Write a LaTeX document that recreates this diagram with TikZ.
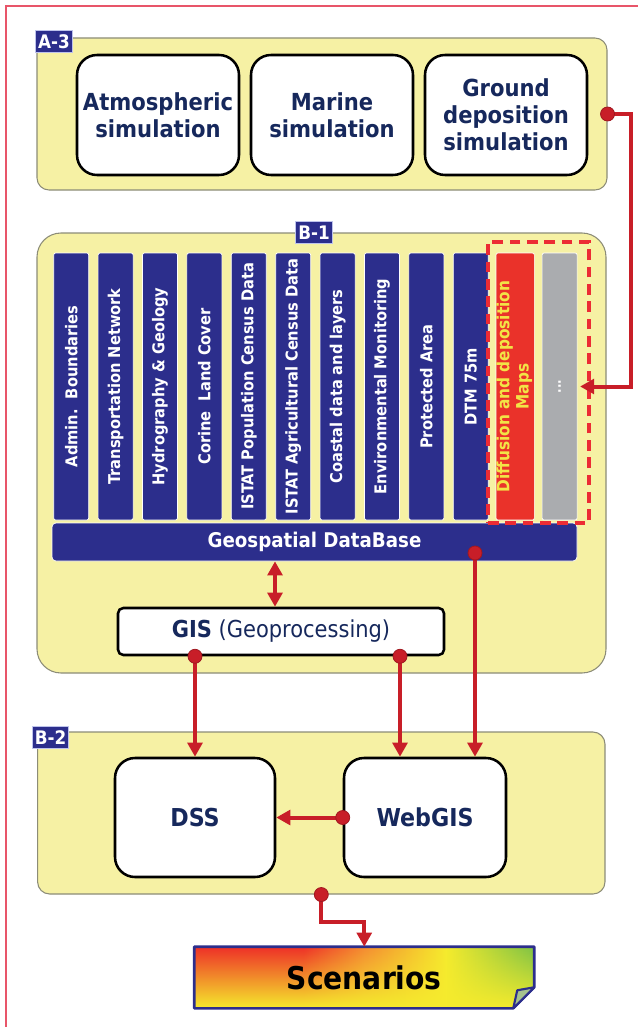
\documentclass[tikz,border=0pt]{standalone}
\usepackage{fontspec}
\usepackage{graphicx}
\setmainfont{DejaVu Sans Condensed}
\usetikzlibrary{arrows.meta,fadings}
\definecolor{navy}{RGB}{44,46,140}
\definecolor{tnavy}{RGB}{22,40,92}
\definecolor{pyellow}{RGB}{246,241,164}
\definecolor{pborder}{RGB}{140,140,120}
\definecolor{tagborder}{RGB}{190,195,235}
\definecolor{cred}{RGB}{200,30,40}
\definecolor{dred}{RGB}{236,44,52}
\definecolor{colred}{RGB}{234,50,42}
\definecolor{dyellow}{RGB}{242,228,70}
\definecolor{gcol}{RGB}{170,172,175}
\definecolor{framec}{RGB}{232,85,105}
\definecolor{sred}{RGB}{238,48,40}
\definecolor{sorange}{RGB}{244,140,50}
\definecolor{syellow}{RGB}{245,235,45}
\definecolor{sgreen}{RGB}{125,194,70}
\pgfdeclarehorizontalshading{scenh}{100bp}{color(0bp)=(sred); color(25bp)=(sred); color(41bp)=(sred); color(50bp)=(sorange); color(62bp)=(syellow); color(75bp)=(sgreen); color(100bp)=(sgreen)}
\tikzfading[name=scfade, top color=transparent!100, middle color=transparent!85, bottom color=transparent!0]
\begin{document}
\begin{tikzpicture}[x=0.75pt,y=-0.75pt,
  panel/.style={draw=pborder, line width=0.8pt, fill=pyellow, inner sep=0pt},
  tag/.style={fill=navy, draw=tagborder, line width=0.6pt, text=white,
    font=\bfseries\fontsize{14}{16}\selectfont, minimum width=27.5pt, minimum height=16pt, inner sep=0pt},
  simbox/.style={draw=black, line width=1.9pt, fill=white, rounded corners=15pt,
    minimum width=121.5pt, minimum height=90pt, align=center, text=tnavy,
    font=\bfseries\fontsize{17.6}{20.25}\selectfont, inner sep=0pt},
  col/.style={fill=navy, draw=white, line width=0.5pt, rounded corners=1.5pt,
    minimum width=26.25pt, minimum height=200.25pt, inner sep=0pt, text=white,
    font=\bfseries\fontsize{12.2}{14.4}\selectfont},
  conn/.style={draw=cred, line width=3pt, -{Triangle[width=11pt,length=10.5pt]}},
  dot/.style={circle, fill=cred, draw=cred!80!black, line width=0.6pt, minimum size=10.5pt, inner sep=0pt}
]
\useasboundingbox (0,0) rectangle (638,1027);
% frame
\draw[framec, line width=0.9pt] (6,1027) -- (6,6) -- (638,6);

% A-3 panel
\node[panel, rounded corners=9pt, minimum width=427.5pt, minimum height=114pt] (a3) at (322,114) {};
\node[tag] (ta3) at (54,41.5) {A-3};
\node[simbox] (atm) at (158,115) {Atmospheric\\simulation};
\node[simbox] (mar) at (332,115) {Marine\\simulation};
\node[simbox] (gro) at (506,115) {Ground\\deposition\\simulation};

% B-1 panel
\node[panel, rounded corners=18pt, minimum width=426.75pt, minimum height=330pt] (b1) at (321.5,453) {};
\node[tag] (tb1) at (314,232.5) {B-1};
\foreach \i/\t in {0/{Admin.\ \ Boundaries},1/{Transportation Network},2/{Hydrography \& Geology},
  3/{Corine\ \ Land Cover},4/{ISTAT Population Census Data},5/{ISTAT Agricultural Census Data},
  6/{Coastal data and layers},7/{Environmental Monitoring},8/{Protected Area},9/{DTM 75m}}
  \node[col] (c\i) at ({71.2+44.4*\i},386.5) {\rotatebox{90}{\t}};
\node[col, fill=colred, text=dyellow, font=\bfseries\fontsize{12.8}{14.4}\selectfont] (c10) at ({71.2+44.4*10},386.5)
  {\rotatebox{90}{\begin{tabular}{@{}c@{}}Diffusion and deposition\\Maps\end{tabular}}};
\node[col, fill=gcol, font=\bfseries\fontsize{10}{10}\selectfont] (c11) at ({71.2+44.4*11},386.5) {\rotatebox{90}{...}};
\node[fill=navy, draw=white, line width=0.5pt, rounded corners=3pt, minimum width=393.75pt,
  minimum height=28.5pt, inner sep=0pt, text=white, font=\bfseries\fontsize{15.2}{17}\selectfont]
  (db) at (314.5,542) {Geospatial DataBase};
\node[draw=dred, line width=2.8pt, dash pattern=on 8pt off 5pt, minimum width=75.75pt,
  minimum height=210.75pt, inner sep=0pt] (dbox) at (538.5,382.5) {};
\node[draw=black, line width=1.9pt, fill=white, rounded corners=4pt, minimum width=244.5pt,
  minimum height=35.25pt, inner sep=0pt, text=tnavy, font=\fontsize{17.5}{20}\selectfont]
  (gis) at (281,631.5) {\textbf{GIS} (Geoprocessing)};

% B-2 panel
\node[panel, rounded corners=9pt, minimum width=425.5pt, minimum height=121.5pt] (b2) at (321.3,813) {};
\node[tag] (tb2) at (50.5,737.5) {B-2};
\node[simbox, minimum width=120pt, minimum height=89.25pt, font=\bfseries\fontsize{18.5}{20}\selectfont] (dss) at (195,817.5) {DSS};
\node[simbox, minimum width=121.5pt, minimum height=89.25pt, font=\bfseries\fontsize{18.5}{20}\selectfont] (web) at (425,817.5) {WebGIS};

% Scenarios
\node[minimum width=254.6pt, minimum height=45.75pt, inner sep=0pt] (scen) at (364.25,977.5) {};
\shade[shading=scenh] (scen.north west) -- (scen.north east) -- ([yshift=15.75pt]scen.south east)
  -- ([xshift=-15.75pt]scen.south east) -- (scen.south west) -- cycle;
\fill[syellow, path fading=scfade] (scen.north west) -- (scen.north east) -- ([yshift=15.75pt]scen.south east)
  -- ([xshift=-15.75pt]scen.south east) -- (scen.south west) -- cycle;
\draw[navy, line width=1.9pt, line join=round] (scen.north west) -- (scen.north east) -- ([yshift=15.75pt]scen.south east)
  -- ([xshift=-15.75pt]scen.south east) -- (scen.south west) -- cycle;
\filldraw[fill=sgreen!60!gray!70, draw=navy, line width=1.6pt, line join=round]
  ([xshift=-15.75pt]scen.south east) -- ([xshift=-12.75pt,yshift=13.5pt]scen.south east)
  -- ([yshift=15.75pt]scen.south east) -- cycle;
\node[text=black, font=\bfseries\fontsize{23.5}{26}\selectfont] (scentext) at (scen.center) {Scenarios};

% connectors
\coordinate (rc) at (631,0);
\coordinate (g1) at (275,0);
\coordinate (w1) at (400,0);
\coordinate (w2) at (475,553);
\coordinate (s1) at (0,922);
\draw[conn] (a3.east) node[dot]{} -- (a3.east -| rc) -- (rc |- c11.east) -- ([xshift=2pt]c11.east);
\draw[conn, {Triangle[width=11pt,length=10.5pt]}-{Triangle[width=11pt,length=10.5pt]}] (g1 |- db.south) -- (g1 |- gis.north);
\draw[conn] (gis.south -| dss.north) node[dot]{} -- (dss.north);
\draw[conn] (w1 |- gis.south) node[dot]{} -- (w1 |- web.north);
\draw[conn] (w2) node[dot]{} -- (w2 |- web.north);
\draw[conn] (web.west) node[dot]{} -- (dss.east);
\draw[conn] (b2.south) node[dot]{} -- (b2.south |- s1) -| (scen.north);
\end{tikzpicture}
\end{document}
